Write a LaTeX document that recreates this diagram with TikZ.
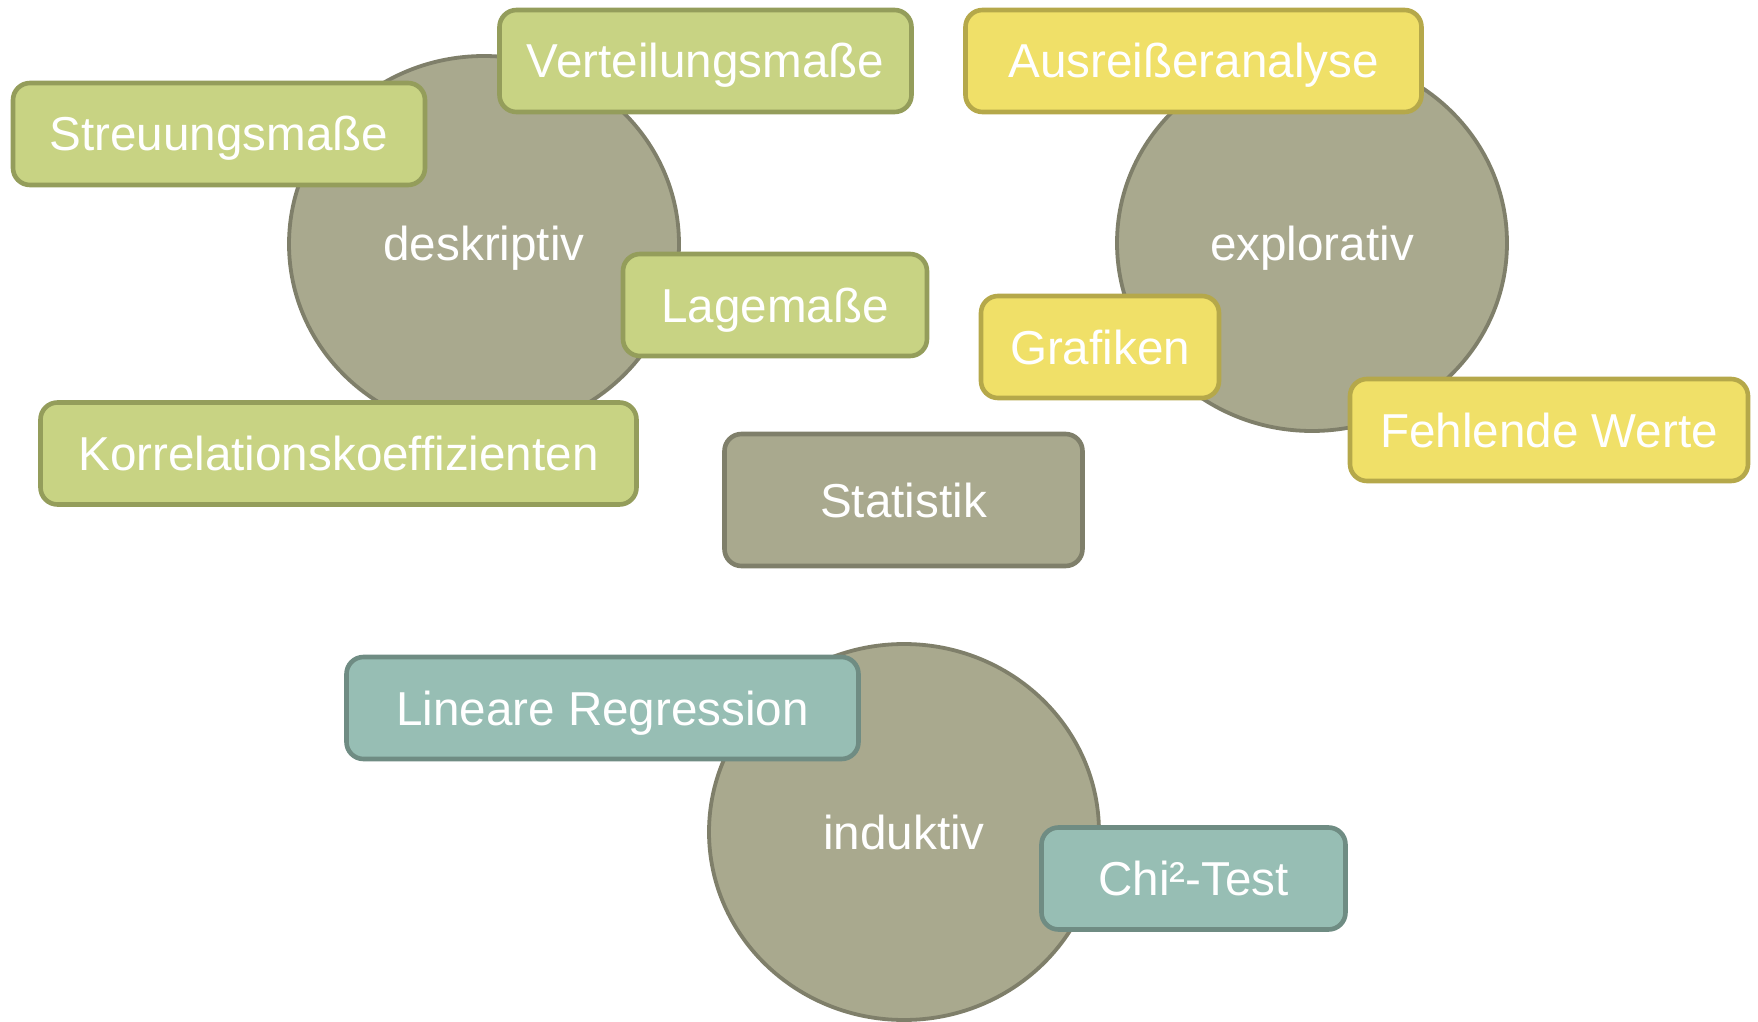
\documentclass[tikz,border=0pt]{standalone}
\usepackage{fontspec}
\setmainfont{Liberation Sans}
\usetikzlibrary{shapes.geometric}
\definecolor{ellfill}{HTML}{A9A98E}
\definecolor{elldraw}{HTML}{7F7F6A}
\definecolor{grnfill}{HTML}{C8D383}
\definecolor{grndraw}{HTML}{949D5B}
\definecolor{yelfill}{HTML}{F0E068}
\definecolor{yeldraw}{HTML}{B5A84A}
\definecolor{teafill}{HTML}{97BEB4}
\definecolor{teadraw}{HTML}{6F8C83}
\tikzset{
  lbl/.style={text=white, font=\fontsize{23.8pt}{28pt}\selectfont, inner sep=0pt, align=center, text height=17pt, text depth=0pt},
  ell/.style={lbl, ellipse, fill=ellfill, draw=elldraw, line width=1.9pt, minimum width=195pt, minimum height=188pt},
  box/.style={lbl, rectangle, rounded corners=8.5pt, line width=2.3pt, minimum height=51pt},
  grnbox/.style={box, fill=grnfill, draw=grndraw},
  yelbox/.style={box, fill=yelfill, draw=yeldraw},
  teabox/.style={box, fill=teafill, draw=teadraw},
  statbox/.style={box, fill=ellfill, draw=elldraw, minimum height=66pt}
}
\begin{document}
\begin{tikzpicture}[x=0.5pt, y=-0.5pt]
\useasboundingbox (0,0) rectangle (1758,1022);
% ellipses
\node[ell] (desk) at (484,244) {deskriptiv};
\node[ell] (expl) at (1312,243) {explorativ};
\node[ell] (indu) at (904,832) {induktiv};
% descriptive boxes
\node[grnbox, minimum width=206pt] (vert) at (705.5,61) {Verteilungsmaße};
\node[grnbox, minimum width=206pt] (streu) at (219,134) {Streuungsmaße};
\node[grnbox, minimum width=152pt] (lage) at (775,305) {Lagemaße};
\node[grnbox, minimum width=298pt] (korr) at (338.5,453.5) {Korrelationskoeffizienten};
% statistik
\node[statbox, minimum width=179pt] (stat) at (903.5,500) {Statistik};
% explorative boxes
\node[yelbox, minimum width=228pt] (ausr) at (1193.5,61) {Ausreißeranalyse};
\node[yelbox, minimum width=119pt] (graf) at (1100,347) {Grafiken};
\node[yelbox, minimum width=199pt] (fehl) at (1549,430) {Fehlende Werte};
% inductive boxes
\node[teabox, minimum width=256pt] (linreg) at (602.5,708) {Lineare Regression};
\node[teabox, minimum width=152pt] (chi) at (1193.5,878.5) {Chi²-Test};
\end{tikzpicture}
\end{document}
